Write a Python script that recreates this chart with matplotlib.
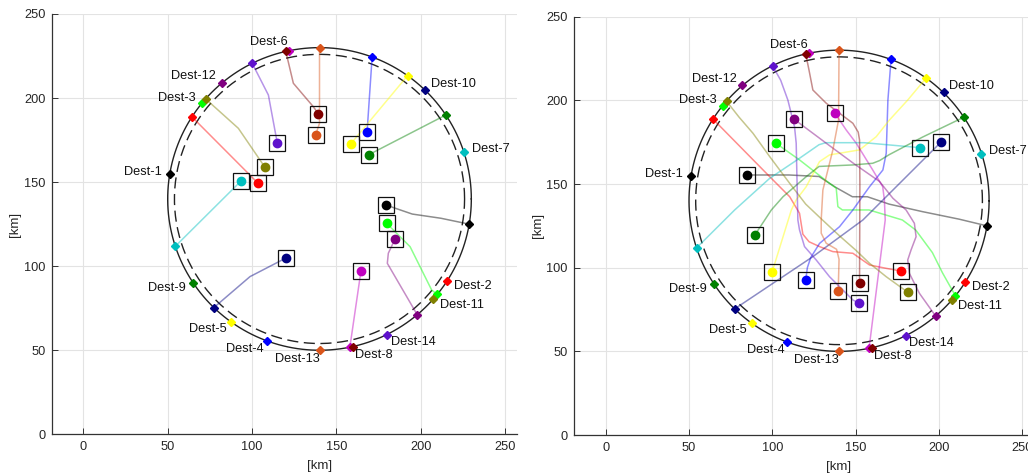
import numpy as np
import matplotlib
matplotlib.use("Agg")
import matplotlib.pyplot as plt

plt.rcParams['font.family'] = ['Liberation Sans', 'DejaVu Sans']

# drone colours, index 0..13 -> Dest-1..Dest-14
colors = ['k', 'r', '#00ff00', 'b', '#ffff00', 'm', 'c',
          (0.5, 0, 0), (0, 0.5, 0), (0, 0, 0.5), (0.5, 0.5, 0),
          (0.5, 0, 0.5), (0.85, 0.33, 0.1), (0.37, 0.07, 0.8)]
dest_names = ['Dest-%d' % (i + 1) for i in range(14)]

# destination points on the outer circle
dest_x = [51.3, 215.6, 70.2, 108.8, 87.8, 122.0, 225.4, 160.0, 65.0, 202.7, 207.5, 82.0, 140.0, 179.9]
dest_y = [155.0, 91.2, 196.8, 55.5, 66.7, 228.2, 168.1, 52.2, 90.0, 204.7, 80.5, 209.0, 50.0, 59.3]

# start points (opposite side of the circle)
start_x = [228.7, 64.4, 209.8, 171.2, 192.2, 158.0, 54.6, 120.0, 215.0, 77.3, 72.5, 198.0, 140.0, 100.1]
start_y = [125.0, 188.8, 83.2, 224.5, 213.3, 51.8, 111.9, 227.8, 190.0, 75.3, 199.5, 71.0, 230.0, 220.7]

circle_c = (140, 140)
r_outer = 90
r_inner = 86

# left panel: current positions and bend points of the flown tracks
left_now_x = [179.3, 103.4, 179.8, 168.2, 158.5, 164.6, 93.5, 139.3, 169.2, 120.2, 107.7, 184.8, 137.7, 115.0]
left_now_y = [136.4, 149.5, 125.5, 179.8, 172.7, 97.3, 150.7, 190.7, 166.3, 104.9, 158.8, 116.2, 178.0, 173.1]
left_bends = [
    [(212, 128.5), (195, 131)],
    [],
    [(206.5, 85.8), (193.7, 111.6)],
    [],
    [],
    [],
    [],
    [(124.5, 208.8), (136.3, 194.9)],
    [],
    [(98.8, 93.8)],
    [(91.9, 182)],
    [(180.2, 101.7), (180.8, 107.7)],
    [(140, 185)],
    [(109.7, 201.8)],
]

# right panel: later time step
right_now_x = [85.0, 177.2, 102.2, 120.0, 99.8, 137.6, 188.8, 152.3, 89.5, 201.4, 181.4, 113.2, 139.5, 151.8]
right_now_y = [155.4, 98.0, 174.3, 92.6, 97.2, 192.2, 171.7, 90.6, 119.5, 175.3, 85.2, 188.6, 86.1, 78.8]
right_bends = [
    [(212, 129), (190, 133.5), (170, 138), (157, 142.4), (148, 142.4), (138, 148), (128, 154.5), (110, 155.4)],
    [(98.4, 154.4), (110.4, 142.4), (116.3, 132.5), (118.3, 120), (122, 115.5), (128.3, 112.6),
     (136.3, 109.6), (148.3, 108.6), (158.3, 101.6), (168.3, 99.6)],
    [(202, 97), (196, 109), (186, 122.5), (178, 128.5), (168, 131.5), (158, 134.5), (142, 134.5),
     (139.3, 136.5), (138.3, 147.5), (134.3, 150.4), (116.3, 164.4)],
    [(169.3, 200), (168.3, 168.4), (166.3, 158.4), (158.3, 148.4), (148.3, 134.5), (140.3, 124.5),
     (128.3, 114.5), (123, 106), (121, 100)],
    [(181.2, 200.2), (170, 188), (162.3, 178.3), (152.3, 170.4), (134.3, 167.4), (128.3, 163.4),
     (120.3, 148.4), (114.3, 140.5), (111.4, 134.5)],
    [(167.7, 128.5), (167.2, 140.5), (166.2, 148.4), (160.2, 158.4), (150.3, 174.4), (144.3, 182.3)],
    [(77.4, 134.5), (98.4, 153.4), (116.3, 165.4), (128, 173.5), (132, 174.7), (155, 174.7)],
    [(122, 218), (124.3, 206.2), (132.3, 198.3), (148.3, 186.3), (151.5, 181), (152.3, 176.3), (152.5, 150)],
    [(190, 178), (170, 167.5), (164.3, 164), (160.2, 162.4), (148.3, 161.4), (134.3, 160.8), (128, 160.5),
     (120.3, 154.4), (106.4, 142.4), (99.4, 134.5)],
    [(124.3, 106.6), (154.3, 128.5)],
    [(80, 190), (88.4, 180.3), (98.4, 166.4), (110.4, 150.4), (120, 138), (129, 129.5), (140.3, 119),
     (150, 110.5), (158.3, 102.6), (168.3, 94.6)],
    [(188.2, 84.7), (182.2, 96.6), (181.2, 104.6), (183.2, 110.6), (186.2, 118.5), (185.2, 126.5),
     (180.2, 134.5), (172.3, 141.5), (164.3, 151.5), (148.6, 162.4), (132.3, 174.4)],
    [(139.7, 188.3), (136.3, 170.4), (130.3, 146.4), (129.3, 128.5), (129.3, 120.6), (132.3, 114.6),
     (138.5, 111), (140, 105)],
    [(105, 212), (109.3, 200.2), (113.3, 184.2), (114.3, 174.4), (115.3, 128.5), (116.3, 122.5),
     (119.3, 112.6), (126.3, 104.6), (134.3, 94.6), (148.3, 80.7)],
]

ticks = [0, 50, 100, 150, 200, 250]
W, H = 1028, 476


def draw_panel(ax, now_x, now_y, bends, xlim):
    t = np.linspace(0, 2 * np.pi, 400)
    ax.plot(circle_c[0] + r_outer * np.cos(t), circle_c[1] + r_outer * np.sin(t),
            color='#222222', lw=1.0, zorder=2)
    ax.plot(circle_c[0] + r_inner * np.cos(t), circle_c[1] + r_inner * np.sin(t),
            color='#222222', lw=1.0, dashes=(8, 4), zorder=2)

    for i in range(14):
        px = [start_x[i]] + [p[0] for p in bends[i]] + [now_x[i]]
        py = [start_y[i]] + [p[1] for p in bends[i]] + [now_y[i]]
        ax.plot(px, py, color=colors[i], alpha=0.45, lw=1.1, zorder=3)

    for i in range(14):
        ax.plot(start_x[i], start_y[i], 'D', color=colors[i], ms=4.4, mec=colors[i], zorder=5)
        ax.plot(dest_x[i], dest_y[i], 'D', color=colors[i], ms=4.4, mec=colors[i], zorder=5)
        ax.plot(now_x[i], now_y[i], 'o', color=colors[i], ms=6, zorder=6)
        ax.plot(now_x[i], now_y[i], 's', mfc='none', mec='#111111', ms=12, mew=0.9, zorder=6)

        # label sits just outside the circle, radially
        dx = dest_x[i] - circle_c[0]
        dy = dest_y[i] - circle_c[1]
        n = np.hypot(dx, dy)
        lx = dest_x[i] + 5 * dx / n
        ly = dest_y[i] + 5 * dy / n
        ha = 'right' if dest_x[i] <= circle_c[0] else 'left'
        ax.text(lx, ly, dest_names[i], ha=ha, va='center', fontsize=9.2, color='#111111', zorder=7)

    ax.set_xlim(*xlim)
    ax.set_ylim(0, 250)
    ax.set_xticks(ticks)
    ax.set_yticks(ticks)
    ax.grid(True, color='#e3e3e3', lw=0.8, zorder=0)
    ax.set_axisbelow(True)
    ax.spines['top'].set_visible(False)
    ax.spines['right'].set_visible(False)
    for s in ('left', 'bottom'):
        ax.spines[s].set_color('#333333')
        ax.spines[s].set_linewidth(0.9)
    ax.tick_params(direction='in', length=4, width=0.7, colors='#333333',
                   labelsize=9.2, pad=5, labelcolor='#262626')
    ax.set_xlabel('[km]', fontsize=9.5, color='#262626')
    ax.set_ylabel('[km]', fontsize=9.5, color='#262626')
    ax.xaxis.set_label_coords((140 - xlim[0]) / (xlim[1] - xlim[0]), -0.062)
    ax.yaxis.set_label_coords(-0.067, 0.5)


fig = plt.figure(figsize=(W / 100, H / 100), dpi=100)

ax1 = fig.add_axes([52.3 / W, 41.7 / H, 464.4 / W, 420.3 / H])
draw_panel(ax1, left_now_x, left_now_y, left_bends, (-18.4, 256.9))

ax2 = fig.add_axes([574.3 / W, 41.0 / H, 459.3 / W, 418.3 / H])
draw_panel(ax2, right_now_x, right_now_y, right_bends, (-18.8, 256.7))

fig.savefig('out.png', dpi=100)
